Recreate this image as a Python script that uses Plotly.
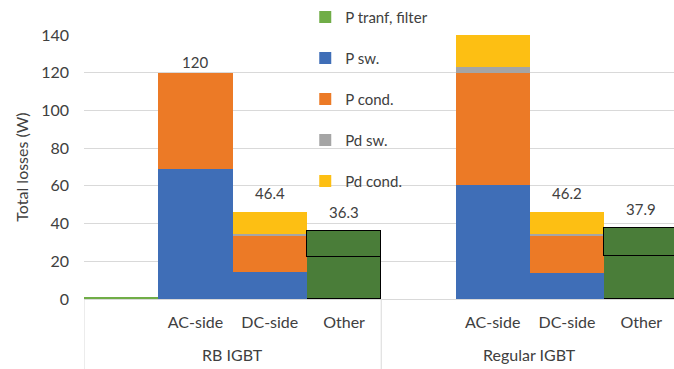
import plotly.graph_objects as go

# ---- data ----
groups = ["RB IGBT"] * 4 + ["Regular IGBT"] * 4
categories = [" ", "AC-side", "DC-side", "Other"] * 2
group_names = ["RB IGBT", "Regular IGBT"]

p_tranf_filter = [0.8, 0, 0, 22.3, 0, 0, 0, 22.7]
p_sw = [0, 68.8, 14.3, 0, 0, 60.4, 13.9, 0]
p_cond = [0, 51.2, 19.5, 0, 0, 59.4, 20.0, 0]
pd_sw = [0, 0, 0.8, 0, 0, 3.2, 0.8, 0]
pd_cond = [0, 0, 11.8, 0, 0, 17.8, 11.5, 0]
other_upper = [0, 0, 0, 14.0, 0, 0, 0, 15.2]

total_labels = ["", "120", "46.4", "36.3", "", "140.8", "46.2", "37.9"]

y_ticks = [0, 20, 40, 60, 80, 100, 120, 140]

# ---- styles ----
FONT = "Lato"
TXT = "#404040"
C_GREEN = "#70AD47"
C_GREEN_DARK = "#4A7D39"
C_BLUE = "#3F6EB7"
C_ORANGE = "#EC7A26"
C_GRAY = "#A5A5A5"
C_YELLOW = "#FDBF13"
GRID = "#d9d9d9"

xpos = list(range(len(categories)))

fig = go.Figure()

is_other = [c == "Other" for c in categories]
tranf_colors = [C_GREEN_DARK if o else C_GREEN for o in is_other]
other_lw = [1.5 if (o and v > 0) else 0 for o, v in zip(is_other, p_tranf_filter)]
upper_lw = [1.5 if v > 0 else 0 for v in other_upper]

fig.add_trace(go.Bar(x=xpos, y=p_tranf_filter, name="P tranf, filter",
                     marker=dict(color=tranf_colors, line=dict(color="black", width=other_lw)),
                     legendgroup="a"))
fig.add_trace(go.Bar(x=xpos, y=p_sw, name="P sw.", marker=dict(color=C_BLUE, line=dict(width=0)),
                     legendgroup="b"))
fig.add_trace(go.Bar(x=xpos, y=p_cond, name="P cond.", marker=dict(color=C_ORANGE, line=dict(width=0)),
                     legendgroup="c"))
fig.add_trace(go.Bar(x=xpos, y=pd_sw, name="Pd sw.", marker=dict(color=C_GRAY, line=dict(width=0)),
                     legendgroup="d"))
fig.add_trace(go.Bar(x=xpos, y=pd_cond, name="Pd cond.", marker=dict(color=C_YELLOW, line=dict(width=0)),
                     legendgroup="e"))
fig.add_trace(go.Bar(x=xpos, y=other_upper, name="Other", showlegend=False,
                     marker=dict(color=C_GREEN_DARK, line=dict(color="black", width=upper_lw))))

totals = [a + b + c + d + e + f for a, b, c, d, e, f in
          zip(p_tranf_filter, p_sw, p_cond, pd_sw, pd_cond, other_upper)]
label_shift = [19, 11, 19, 19, 19, 19, 19, 19]
for xp, t, lab, s in zip(xpos, totals, total_labels, label_shift):
    if lab:
        fig.add_annotation(x=xp, y=t, text=lab, showarrow=False, yshift=s,
                           font=dict(family=FONT, size=15, color=TXT))

# group labels and dividers (multi-level category axis)
n_per = len(categories) // len(group_names)
for gi, gname in enumerate(group_names):
    centre = gi * n_per + (n_per - 1) / 2
    fig.add_annotation(x=centre, xref="x", y=-0.212, yref="paper", text=gname,
                       showarrow=False, yanchor="middle",
                       font=dict(family=FONT, size=16, color=TXT))
    fig.add_shape(type="line", xref="x", yref="paper", x0=gi * n_per - 0.5, x1=gi * n_per - 0.5,
                  y0=0, y1=-0.3, line=dict(color=GRID, width=1))

fig.update_layout(
    width=674, height=369,
    margin=dict(l=84, r=0, t=35, b=70),
    barmode="stack", bargap=0,
    plot_bgcolor="white", paper_bgcolor="white",
    font=dict(family=FONT, size=16, color=TXT),
    legend=dict(x=0.375, y=1.13, xanchor="left", yanchor="top",
                traceorder="grouped", tracegroupgap=18.5, maxheight=369,
                font=dict(family=FONT, size=15, color=TXT),
                bgcolor="rgba(0,0,0,0)"),
)
fig.update_xaxes(range=[-0.5, 7.44], showgrid=False, showline=False, ticks="",
                 tickvals=xpos, ticktext=categories, ticklabelstandoff=12,
                 tickfont=dict(family=FONT, size=16, color=TXT), zeroline=False)
fig.update_yaxes(range=[0, 140], tickvals=y_ticks, showgrid=True, gridcolor=GRID,
                 gridwidth=1, zeroline=True, zerolinecolor=GRID, zerolinewidth=1,
                 showline=False, ticks="", ticklabelstandoff=14,
                 tickfont=dict(family=FONT, size=16, color=TXT),
                 title=dict(text="Total losses (W)", standoff=8,
                            font=dict(family=FONT, size=16, color=TXT)))

fig.write_html("out.html")
